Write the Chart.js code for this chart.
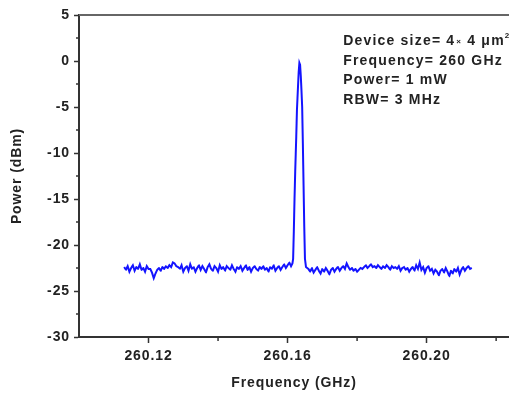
<!DOCTYPE html>
<html>
<head>
<meta charset="utf-8">
<script src="https://cdn.jsdelivr.net/npm/chart.js@4/dist/chart.umd.min.js"></script>
<style>
  html, body { margin: 0; padding: 0; background: #fff; }
  canvas { display: block; }
</style>
</head>
<body>
<canvas id="chart" width="509" height="396"></canvas>
<script>
// --- Data ---
const freqGHz = [
  260.1130,260.1135,260.1140,260.1145,260.1150,260.1155,260.1160,260.1165,260.1170,260.1175,
  260.1180,260.1185,260.1190,260.1195,260.1200,260.1205,260.1210,260.1215,260.1220,260.1225,
  260.1230,260.1235,260.1240,260.1245,260.1250,260.1255,260.1260,260.1265,260.1270,260.1275,
  260.1280,260.1285,260.1290,260.1295,260.1300,260.1305,260.1310,260.1315,260.1320,260.1325,
  260.1330,260.1335,260.1340,260.1345,260.1350,260.1355,260.1360,260.1365,260.1370,260.1375,
  260.1380,260.1385,260.1390,260.1395,260.1400,260.1405,260.1410,260.1415,260.1420,260.1425,
  260.1430,260.1435,260.1440,260.1445,260.1450,260.1455,260.1460,260.1465,260.1470,260.1475,
  260.1480,260.1485,260.1490,260.1495,260.1500,260.1505,260.1510,260.1515,260.1520,260.1525,
  260.1530,260.1535,260.1540,260.1545,260.1550,260.1555,260.1560,260.1565,260.1570,260.1575,
  260.1580,260.1585,260.1590,260.1595,260.1600,260.1605,
  // peak
  260.1610,260.1614,260.1616,260.1618,260.1620,260.1622,260.1625,260.1627,260.1630,260.1632,
  260.1634,260.1636,260.1638,260.1640,260.1642,260.1644,260.1646,260.1648,260.1650,260.1653,
  260.1660,260.1665,260.1670,260.1675,260.1680,260.1685,260.1690,260.1695,260.1700,260.1705,
  260.1710,260.1715,260.1720,260.1725,260.1730,260.1735,260.1740,260.1745,260.1750,260.1755,
  260.1760,260.1765,260.1770,260.1775,260.1780,260.1785,260.1790,260.1795,260.1800,260.1805,
  260.1810,260.1815,260.1820,260.1825,260.1830,260.1835,260.1840,260.1845,260.1850,260.1855,
  260.1860,260.1865,260.1870,260.1875,260.1880,260.1885,260.1890,260.1895,260.1900,260.1905,
  260.1910,260.1915,260.1920,260.1925,260.1930,260.1935,260.1940,260.1945,260.1950,260.1955,
  260.1960,260.1965,260.1970,260.1975,260.1980,260.1985,260.1990,260.1995,260.2000,260.2005,
  260.2010,260.2015,260.2020,260.2025,260.2030,260.2035,260.2040,260.2045,260.2050,260.2055,
  260.2060,260.2065,260.2070,260.2075,260.2080,260.2085,260.2090,260.2095,260.2100,260.2105,
  260.2110,260.2115,260.2120,260.2125,260.2130
];

const powerDBm = [
  -22.4,-22.7,-22.3,-22.9,-22.5,-22.2,-22.8,-22.4,-22.6,-22.1,
  -22.7,-22.5,-22.9,-22.3,-22.6,-22.6,-23.0,-23.6,-23.1,-22.7,
  -22.5,-22.8,-22.4,-22.6,-22.3,-22.5,-22.2,-22.4,-21.9,-22.0,
  -22.3,-22.4,-22.6,-22.2,-22.9,-22.5,-22.3,-22.8,-22.1,-22.6,
  -22.4,-22.9,-22.5,-22.2,-22.7,-22.3,-22.6,-23.0,-22.4,-22.1,
  -22.6,-22.8,-22.3,-22.5,-22.9,-22.2,-22.6,-22.4,-22.8,-22.3,
  -22.5,-22.7,-22.2,-22.6,-22.9,-22.4,-22.6,-22.3,-22.8,-22.5,
  -22.2,-22.7,-22.4,-22.9,-22.5,-22.3,-22.6,-22.8,-22.4,-22.6,
  -22.3,-22.7,-22.5,-22.9,-22.4,-22.6,-22.2,-22.8,-22.5,-22.3,
  -22.7,-22.4,-22.1,-22.5,-22.2,-21.9,
  // peak
  -22.3,-22.0,-21.5,-18.5,-15.0,-12.0,-8.2,-5.3,-2.8,-1.2,
  -0.2,-0.4,-1.6,-3.2,-5.0,-9.0,-13.5,-18.0,-21.5,-22.4,
  -22.6,-22.9,-22.5,-23.0,-22.7,-22.4,-22.8,-23.1,-22.6,-22.9,
  -22.5,-22.8,-23.2,-22.7,-22.5,-22.9,-22.6,-22.4,-22.8,-22.5,
  -22.3,-22.6,-22.0,-22.4,-22.7,-22.5,-22.8,-22.6,-22.9,-22.7,
  -22.5,-22.6,-22.4,-22.2,-22.5,-22.3,-22.1,-22.4,-22.3,-22.5,
  -22.2,-22.4,-22.6,-22.3,-22.5,-22.2,-22.4,-22.7,-22.3,-22.5,
  -22.4,-22.6,-22.3,-22.8,-22.5,-22.4,-22.7,-22.5,-22.9,-22.6,
  -22.4,-22.8,-22.2,-22.6,-21.9,-22.7,-22.4,-23.0,-22.5,-22.3,
  -22.8,-22.6,-23.1,-22.7,-22.9,-23.3,-22.8,-22.6,-23.0,-22.5,
  -22.9,-23.4,-22.8,-23.1,-22.6,-22.9,-22.5,-23.2,-22.7,-22.4,
  -22.8,-22.5,-22.3,-22.6,-22.5
];

const freqTicks      = [260.12, 260.14, 260.16, 260.18, 260.20, 260.22];
const freqTickLabels = ['260.12', '', '260.16', '', '260.20', ''];
const powerTicks     = [-30, -25, -20, -15, -10, -5, 0, 5];

const infoLines = ['Frequency= 260 GHz', 'Power= 1 mW', 'RBW= 3 MHz'];

// --- Styles ---
const AXIS_COLOR = '#333';
const TEXT_COLOR = '#222';
const FONT = 'Liberation Sans, Arial, sans-serif';

// minor ticks + top frame + info text
const decorPlugin = {
  id: 'decor',
  beforeLayout(chart) {
    chart.ctx.letterSpacing = '0.9px';
  },
  beforeDraw(chart) {
    chart.ctx.letterSpacing = '0.9px';
  },
  afterDraw(chart) {
    const { ctx, chartArea } = chart;
    const xs = chart.scales.x;
    const ys = chart.scales.y;
    ctx.save();
    ctx.strokeStyle = AXIS_COLOR;
    ctx.lineWidth = 1.5;

    // minor x ticks
    freqTicks.forEach((v, i) => {
      if (freqTickLabels[i] !== '') return;
      const px = xs.getPixelForValue(v);
      ctx.beginPath();
      ctx.moveTo(px, chartArea.bottom);
      ctx.lineTo(px, chartArea.bottom + 4);
      ctx.stroke();
    });
    // minor y ticks
    for (let i = 0; i < powerTicks.length - 1; i++) {
      const py = ys.getPixelForValue((powerTicks[i] + powerTicks[i + 1]) / 2);
      ctx.beginPath();
      ctx.moveTo(chartArea.left, py);
      ctx.lineTo(chartArea.left - 3, py);
      ctx.stroke();
    }

    // top frame
    ctx.strokeStyle = '#666';
    ctx.lineWidth = 2;
    ctx.beginPath();
    ctx.moveTo(chartArea.left, chartArea.top);
    ctx.lineTo(chartArea.right, chartArea.top);
    ctx.stroke();

    // info text
    ctx.fillStyle = TEXT_COLOR;
    ctx.textBaseline = 'alphabetic';
    ctx.textAlign = 'left';
    ctx.letterSpacing = '1.2px';
    const tx = xs.getPixelForValue(260.176);
    const ty = ys.getPixelForValue(1.75);
    const big = 'bold 14px ' + FONT;
    const small = 'bold 8px ' + FONT;

    let cx = tx;
    ctx.font = big;
    ctx.fillText('Device size= 4', cx, ty);
    cx += ctx.measureText('Device size= 4').width + 1;
    ctx.font = small;
    ctx.fillText('\u00d7', cx, ty - 1);
    cx += ctx.measureText('\u00d7').width;
    ctx.font = big;
    ctx.fillText(' 4 \u03bcm', cx, ty);
    cx += ctx.measureText(' 4 \u03bcm').width;
    ctx.font = small;
    ctx.fillText('2', cx, ty - 7);

    ctx.font = big;
    infoLines.forEach((line, i) => {
      ctx.fillText(line, tx, ty + 19.7 * (i + 1));
    });
    ctx.restore();
  }
};

new Chart(document.getElementById('chart'), {
  type: 'line',
  data: {
    datasets: [{
      data: freqGHz.map((f, i) => ({ x: f, y: powerDBm[i] })),
      borderColor: '#1414ff',
      borderWidth: 2,
      pointRadius: 0,
      tension: 0.0001, // avoids the fast path, which squashes the narrow peak
      fill: false,
    }]
  },
  options: {
    animation: false,
    responsive: false,
    devicePixelRatio: 1,
    layout: { padding: { top: 15, left: 0, right: 0, bottom: 0 } },
    plugins: { legend: { display: false }, tooltip: { enabled: false } },
    scales: {
      x: {
        type: 'linear',
        min: 260.10,
        max: 260.2237,
        afterFit(scale) { scale.height = 59; },
        afterBuildTicks(scale) { scale.ticks = freqTicks.map(v => ({ value: v })); },
        grid: {
          drawOnChartArea: false,
          tickLength: 6,
          tickWidth: 1.5,
          tickColor: ctx => (freqTickLabels[ctx.index] === '' ? 'rgba(0,0,0,0)' : AXIS_COLOR),
        },
        border: { color: AXIS_COLOR, width: 2 },
        ticks: {
          autoSkip: false,
          maxRotation: 0,
          padding: 5,
          color: TEXT_COLOR,
          font: { family: FONT, size: 14, weight: 'bold' },
          callback: (v, i) => freqTickLabels[i],
        },
        title: {
          display: true,
          text: 'Frequency (GHz)',
          color: TEXT_COLOR,
          font: { family: FONT, size: 14, weight: 'bold' },
          padding: { top: 0, bottom: 4 },
        },
      },
      y: {
        min: -30,
        max: 5,
        afterFit(scale) { scale.width = 79; },
        afterBuildTicks(scale) { scale.ticks = powerTicks.map(v => ({ value: v })); },
        grid: {
          drawOnChartArea: false,
          tickLength: 5,
          tickWidth: 1.5,
          tickColor: AXIS_COLOR,
        },
        border: { color: AXIS_COLOR, width: 2 },
        ticks: {
          padding: 4,
          color: TEXT_COLOR,
          font: { family: FONT, size: 14, weight: 'bold' },
        },
        title: {
          display: true,
          text: 'Power (dBm)',
          color: TEXT_COLOR,
          font: { family: FONT, size: 14, weight: 'bold' },
          padding: { top: 9, bottom: 0 },
        },
      },
    },
  },
  plugins: [decorPlugin],
});
</script>
</body>
</html>
